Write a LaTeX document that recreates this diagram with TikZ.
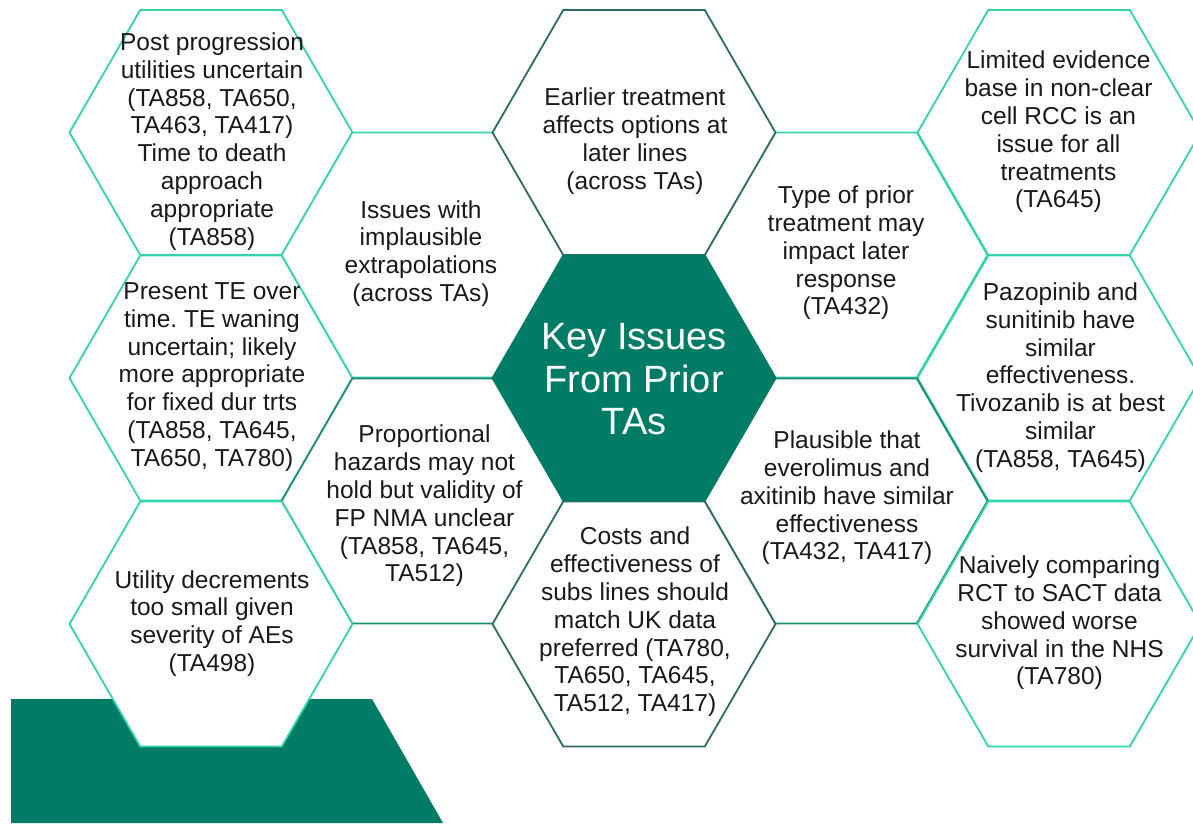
\documentclass[tikz,border=0pt]{standalone}
\usepackage{fontspec}
\setmainfont{Liberation Sans}
\frenchspacing
\usetikzlibrary{shapes.geometric}
\definecolor{turq}{HTML}{33D4AA}
\definecolor{midteal}{HTML}{1E8C74}
\definecolor{darkteal}{HTML}{2F6B66}
\definecolor{keyfill}{HTML}{007B65}
\definecolor{txt}{HTML}{1A1A1A}
\tikzset{
  hexbase/.style={regular polygon, regular polygon sides=6, minimum size=283pt,
    inner sep=0pt, outer sep=0pt, line width=1.8pt, fill=white},
  hexturq/.style={hexbase, draw=turq},
  hexmid/.style={hexbase, draw=midteal},
  hexdark/.style={hexbase, draw=darkteal},
  hexkey/.style={hexbase, draw=keyfill, fill=keyfill},
  issue/.style={align=center, inner sep=0pt, text=txt, font=\fontsize{24.5}{27.8}\selectfont},
  keytext/.style={align=center, inner sep=0pt, text=white, font=\fontsize{38}{42.5}\selectfont}
}
\begin{document}
\begin{tikzpicture}[x=1pt,y=-1pt]
\useasboundingbox (0,0) rectangle (1193,823);
% background band
\fill[keyfill] (11,699) -- (372,699) -- (443,823) -- (11,823) -- cycle;
% turquoise hexagons
\node[hexturq] (h1) at (211,132.5) {};
\node[hexturq] (h2) at (211,378) {};
\node[hexturq] (h4) at (423,255) {};
\node[hexturq] (h9) at (846,255) {};
\node[hexturq] (h11) at (1059,132.5) {};
\node[hexturq] (h12) at (1059,378) {};
% medium teal hexagons
\node[hexmid] (h5) at (423,501) {};
\node[hexmid] (h10) at (846,501) {};
% lower turquoise hexagons
\node[hexturq] (h3) at (211,624) {};
\node[hexturq] (h13) at (1059,624) {};
% dark hexagons
\node[hexdark] (h6) at (634,132.5) {};
\node[hexdark] (h8) at (634,624) {};
% key hexagon
\node[hexkey] (h7) at (634,378) {};
% texts
\node[issue] (t1) at (212,141.5) {Post progression\\utilities uncertain\\(TA858, TA650,\\TA463, TA417)\\Time to death\\approach\\appropriate\\(TA858)};
\node[issue] (t2) at (212,377) {Present TE over\\time. TE waning\\uncertain; likely\\more appropriate\\for fixed dur trts\\(TA858, TA645,\\TA650, TA780)};
\node[issue] (t3) at (212,623.5) {Utility decrements\\too small given\\severity of AEs\\(TA498)};
\node[issue] (t4) at (421,253.5) {Issues with\\implausible\\extrapolations\\(across TAs)};
\node[issue] (t5) at (424.5,506) {Proportional\\hazards may not\\hold but validity of\\FP NMA unclear\\(TA858, TA645,\\TA512)};
\node[issue] (t6) at (635,141) {Earlier treatment\\affects options at\\later lines\\(across TAs)};
\node[keytext] (t7) at (634,379.5) {Key Issues\\From Prior\\TAs};
\node[issue] (t8) at (635,622) {Costs and\\effectiveness of\\subs lines should\\match UK data\\preferred (TA780,\\TA650, TA645,\\TA512, TA417)};
\node[issue] (t9) at (846,253) {Type of prior\\treatment may\\impact later\\response\\(TA432)};
\node[issue] (t10) at (847,498) {Plausible that\\everolimus and\\axitinib have similar\\effectiveness\\(TA432, TA417)};
\node[issue] (t11) at (1058.5,132) {Limited evidence\\base in non-clear\\cell RCC is an\\issue for all\\treatments\\(TA645)};
\node[issue] (t12) at (1060.5,377.5) {Pazopinib and\\sunitinib have\\similar\\effectiveness.\\Tivozanib is at best\\similar\\(TA858, TA645)};
\node[issue] (t13) at (1059.5,623) {Naively comparing\\RCT to SACT data\\showed worse\\survival in the NHS\\(TA780)};
\end{tikzpicture}
\end{document}
